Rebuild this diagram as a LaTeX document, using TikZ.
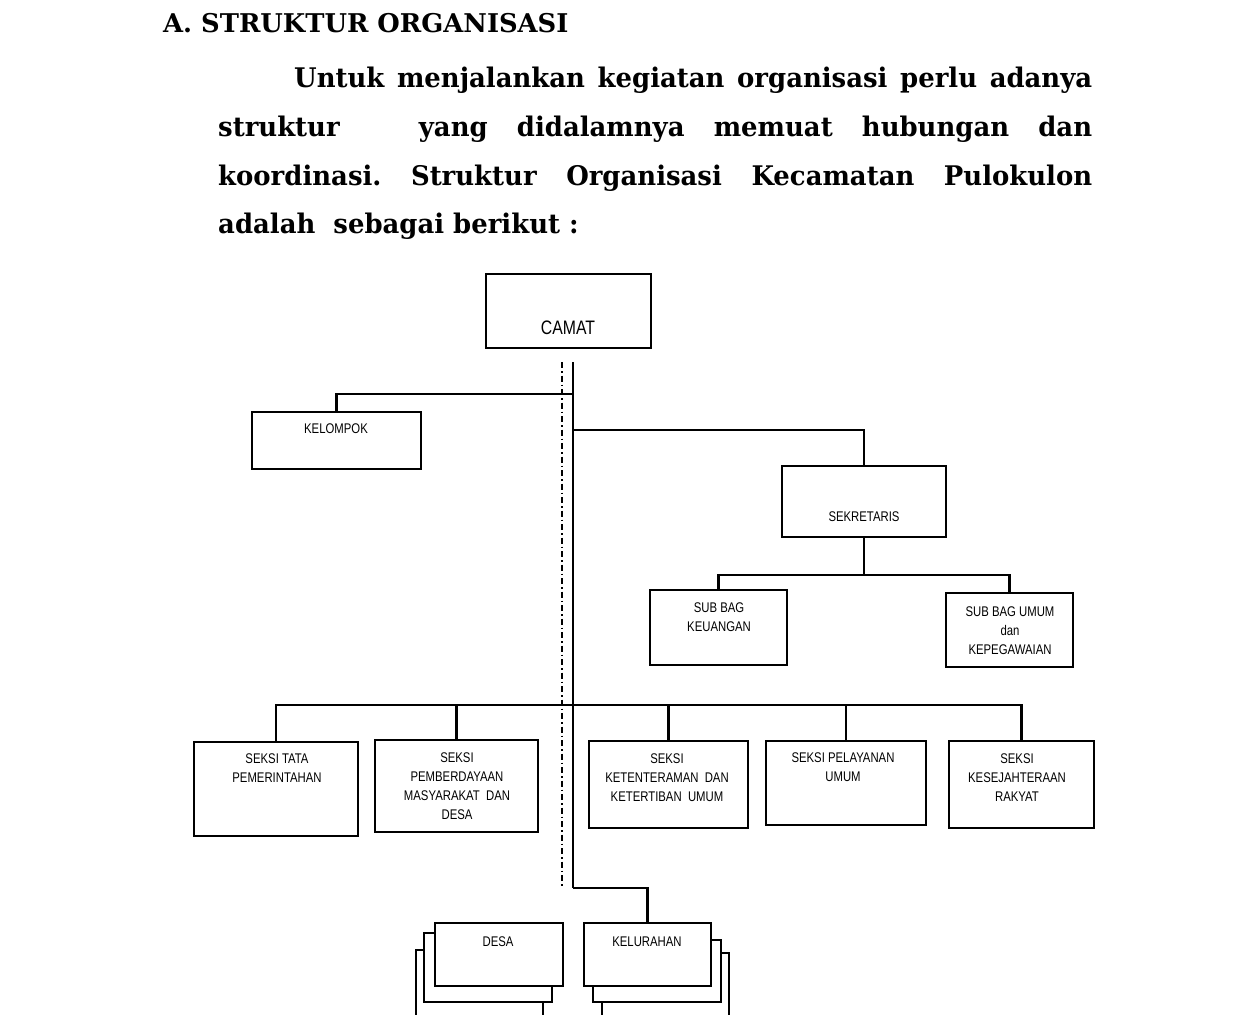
\documentclass[tikz,border=0pt]{standalone}
\usepackage{fontspec}
\newfontfamily\diag[FakeStretch=0.81]{Liberation Sans}
\newfontfamily\serifb{DejaVu Serif}
\newfontfamily\serifbody[FakeStretch=0.96]{DejaVu Serif}
\frenchspacing
\begin{document}
\begin{tikzpicture}[x=1pt,y=-1pt,
  box/.style={draw, line width=1.9pt, fill=white, inner sep=0pt},
  lbl/.style={anchor=north, inner sep=0pt, align=center, font=\diag\fontsize{14}{18.8}\selectfont},
  conn/.style={line width=2.1pt},
  mainline/.style={line width=2.9pt},
  dashdot/.style={line width=1.6pt, dash pattern=on 6pt off 3pt on 1.5pt off 3pt},
  bodytxt/.style={anchor=base west, inner sep=0pt, font=\serifbody\bfseries\fontsize{27}{30}\selectfont}
]
\useasboundingbox (0,0) rectangle (1238,1014);

% ---------- text ----------
\node[bodytxt, font=\serifb\bfseries\fontsize{25.8}{30}\selectfont] (head) at (163,33) {A. STRUKTUR ORGANISASI};
\node[bodytxt] (l1) at (294,88) {\makebox[798pt][s]{Untuk menjalankan kegiatan organisasi perlu adanya}};
\node[bodytxt] (l2) at (218,136) {\makebox[874pt][s]{struktur\hspace*{50pt} yang didalamnya memuat hubungan dan}};
\node[bodytxt] (l3) at (218,185) {\makebox[874pt][s]{koordinasi. Struktur Organisasi Kecamatan Pulokulon}};
\node[bodytxt] (l4) at (218,233) {adalah\ \ sebagai berikut :};

% ---------- boxes ----------
\node[box, minimum width=165pt, minimum height=74pt] (camat) at (568.5,311) {};
\node[box, minimum width=169pt, minimum height=57pt] (kelompok) at (336.5,440.5) {};
\node[box, minimum width=164pt, minimum height=71pt] (sek) at (864,501.5) {};
\node[box, minimum width=137pt, minimum height=75pt] (keu) at (718.5,627.5) {};
\node[box, minimum width=127pt, minimum height=74pt] (umum) at (1009.5,630) {};
\node[box, minimum width=164pt, minimum height=94pt] (tata) at (276,789) {};
\node[box, minimum width=163pt, minimum height=92pt] (pemb) at (456.5,786) {};
\node[box, minimum width=159pt, minimum height=87pt] (keten) at (668.5,784.5) {};
\node[box, minimum width=160pt, minimum height=84pt] (pelay) at (846,783) {};
\node[box, minimum width=145pt, minimum height=87pt] (kesej) at (1021.5,784.5) {};

% stacked DESA
\node[box, minimum width=127pt, minimum height=80pt] (desa3) at (479.5,990) {};
\node[box, minimum width=128pt, minimum height=69pt] (desa2) at (488,967.5) {};
\node[box, minimum width=128pt, minimum height=63pt] (desa) at (499,954.5) {};
% stacked KELURAHAN
\node[box, minimum width=127pt, minimum height=77pt] (kel3) at (665.5,991.5) {};
\node[box, minimum width=128pt, minimum height=62pt] (kel2) at (657,971) {};
\node[box, minimum width=127pt, minimum height=63pt] (kel) at (647.5,954.5) {};

% ---------- labels ----------
\node[lbl, font=\diag\fontsize{19.5}{22}\selectfont] (tcamat) at (568,321) {CAMAT};
\node[lbl] (tkel) at (336,424) {KELOMPOK};
\node[lbl] (tsek) at (864,512) {SEKRETARIS};
\node[lbl] (tkeu) at (719,603) {SUB BAG\\KEUANGAN};
\node[lbl] (tumum) at (1010,607) {SUB BAG UMUM\\dan\\KEPEGAWAIAN};
\node[lbl] (ttata) at (277,754) {SEKSI TATA\\PEMERINTAHAN};
\node[lbl] (tpemb) at (457,753) {SEKSI\\PEMBERDAYAAN\\MASYARAKAT\ \ DAN\\DESA};
\node[lbl] (tketen) at (667,754) {SEKSI\\KETENTERAMAN\ \ DAN\\KETERTIBAN\ \ UMUM};
\node[lbl] (tpelay) at (843,753) {SEKSI PELAYANAN\\UMUM};
\node[lbl] (tkesej) at (1017,754) {SEKSI\\KESEJAHTERAAN\\RAKYAT};
\node[lbl] (tdesa) at (498,937) {DESA};
\node[lbl] (tkelur) at (647,937) {KELURAHAN};

% ---------- connectors ----------
\coordinate (top) at (573,362);
\coordinate (bottom) at (573,888);
\coordinate (dtop) at (562,362);
\coordinate (dbot) at (562,888);
\coordinate (j1) at (573,394);
\coordinate (j2) at (573,430);
\coordinate (hb) at (573,705);

\draw[dashdot] (dtop) -- (dbot);
\draw[mainline] (top) -- (bottom);
\draw[conn] (bottom) -| (kel.north);
\draw[conn] (j1) -| (kelompok.north);
\draw[conn] (j2) -| (sek.north);
\draw[conn] (sek.south) -- ++(0,37) coordinate (sj);
\draw[conn] (keu.north) |- (sj) -| (umum.north);
\draw[conn] (tata.north) |- (hb) -| (kesej.north);
\draw[conn] (pemb.north) -- (pemb.north |- hb);
\draw[conn] (keten.north) -- (keten.north |- hb);
\draw[conn] (pelay.north) -- (pelay.north |- hb);
\end{tikzpicture}
\end{document}
